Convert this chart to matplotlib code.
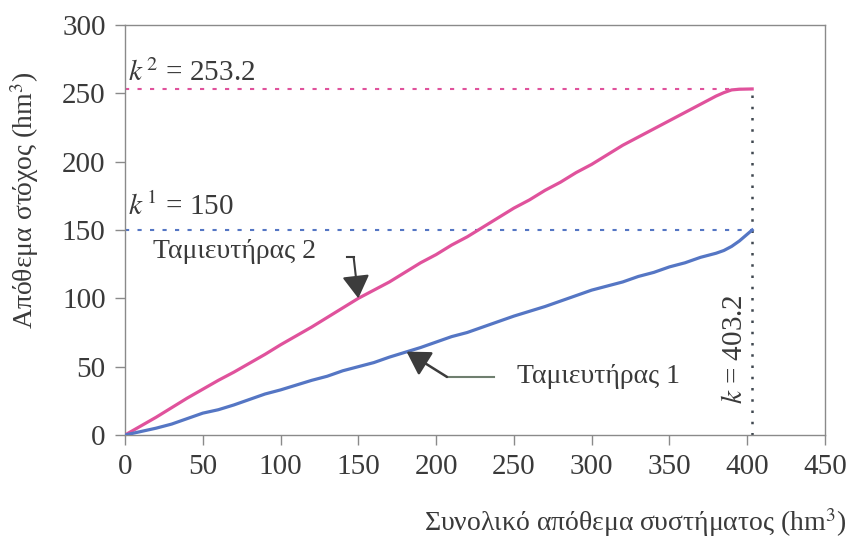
import matplotlib
matplotlib.use("Agg")
import matplotlib.pyplot as plt

plt.rcParams['font.family'] = ['Liberation Serif', 'DejaVu Serif']
plt.rcParams['mathtext.fontset'] = 'stix'

# Total system storage (hm^3) and target storage per reservoir (hm^3)
x_total = [0, 10, 20, 30, 40, 50, 60, 70, 80, 90, 100, 110, 120, 130, 140, 150,
           160, 170, 180, 190, 200, 210, 220, 230, 240, 250, 260, 270, 280, 290,
           300, 310, 320, 330, 340, 350, 360, 370, 380, 385, 390, 395, 403.2]
reservoir_2 = [0, 6.5, 13, 20, 27, 33.5, 40, 46, 52.5, 59, 66, 72.5, 79, 86, 93, 100,
               106, 112, 119, 126, 132, 139, 145, 152, 159, 166, 172, 179, 185, 192,
               198, 205, 212, 218, 224, 230, 236, 242, 248, 250.5, 252.5, 253, 253.2]
reservoir_1 = [0, 2.5, 5, 8, 12, 16, 18.5, 22, 26, 30, 33, 36.5, 40, 43, 47, 50,
               53, 57, 60.5, 64, 68, 72, 75, 79, 83, 87, 90.5, 94, 98, 102,
               106, 109, 112, 116, 119, 123, 126, 130, 133, 135, 138, 142, 150]

k_total = 403.2
k1 = 150
k2 = 253.2

x_ticks = [0, 50, 100, 150, 200, 250, 300, 350, 400, 450]
y_ticks = [0, 50, 100, 150, 200, 250, 300]

pink = '#e0529c'
blue = '#5576c4'
text_col = '#3a3a3a'
axis_col = '#8a8a8a'

fig = plt.figure(figsize=(8.51, 5.42), dpi=100)
ax = fig.add_axes([0.1469, 0.1974, 0.8225, 0.7565])

ax.plot(x_total, reservoir_2, color=pink, lw=2.3, zorder=3)
ax.plot(x_total, reservoir_1, color=blue, lw=2.3, zorder=3)

# Target levels and total storage markers
ax.plot([0, k_total], [k2, k2], color=pink, lw=1.5, ls=(0, (2, 4)), zorder=2)
ax.plot([0, k_total], [k1, k1], color=blue, lw=1.5, ls=(0, (2, 4)), zorder=2)
ax.plot([k_total, k_total], [0, k2], color='#404850', lw=1.8, ls=(0, (1, 3.5)), zorder=2)

ax.set_xlim(0, 450)
ax.set_ylim(0, 300)
ax.set_xticks(x_ticks)
ax.set_yticks(y_ticks)
ax.tick_params(axis='both', direction='out', length=7, width=1, color=axis_col,
               labelsize=21, labelcolor=text_col, pad=7)
for s in ax.spines.values():
    s.set_color(axis_col)
    s.set_linewidth(1.0)

ax.text(2, 265, r'$k^{\,2}$ = 253.2', fontsize=21, color=text_col, va='center', ha='left')
ax.text(2, 167, r'$k^{\,1}$ = 150', fontsize=21, color=text_col, va='center', ha='left')
ax.text(392, 63, r'$k$ = 403.2', fontsize=21, color=text_col, va='center', ha='center',
        rotation=90)

ax.text(18, 134, 'Ταμιευτήρας 2', fontsize=20, color=text_col, va='center', ha='left')
ax.text(252, 42.5, 'Ταμιευτήρας 1', fontsize=20, color=text_col, va='center', ha='left')

arrow_col = '#3c3c3c'
head = '-|>,head_length=1.0,head_width=0.6'
# Arrow to reservoir 2 curve
ax.plot([143, 147], [130, 130], color=arrow_col, lw=1.5)
ax.annotate('', xy=(150, 100), xytext=(147, 130),
            arrowprops=dict(arrowstyle=head, color=arrow_col, lw=1.5,
                            shrinkA=0, shrinkB=0, mutation_scale=14))
# Arrow to reservoir 1 curve
ax.plot([207, 237], [42.5, 42.5], color='#6f7f6f', lw=1.5)
ax.annotate('', xy=(181, 61), xytext=(207, 42.5),
            arrowprops=dict(arrowstyle=head, color=arrow_col, lw=1.8,
                            shrinkA=0, shrinkB=0, mutation_scale=14))

fig.text(0.029, 0.63, r'Απόθεμα στόχος (hm$^{3}$)', rotation=90, fontsize=20,
         color=text_col, ha='center', va='center')
fig.text(0.995, 0.036, r'Συνολικό απόθεμα συστήματος (hm$^{3}$)', fontsize=20,
         color=text_col, ha='right', va='center')

fig.savefig('out.png', dpi=100, facecolor='white')
